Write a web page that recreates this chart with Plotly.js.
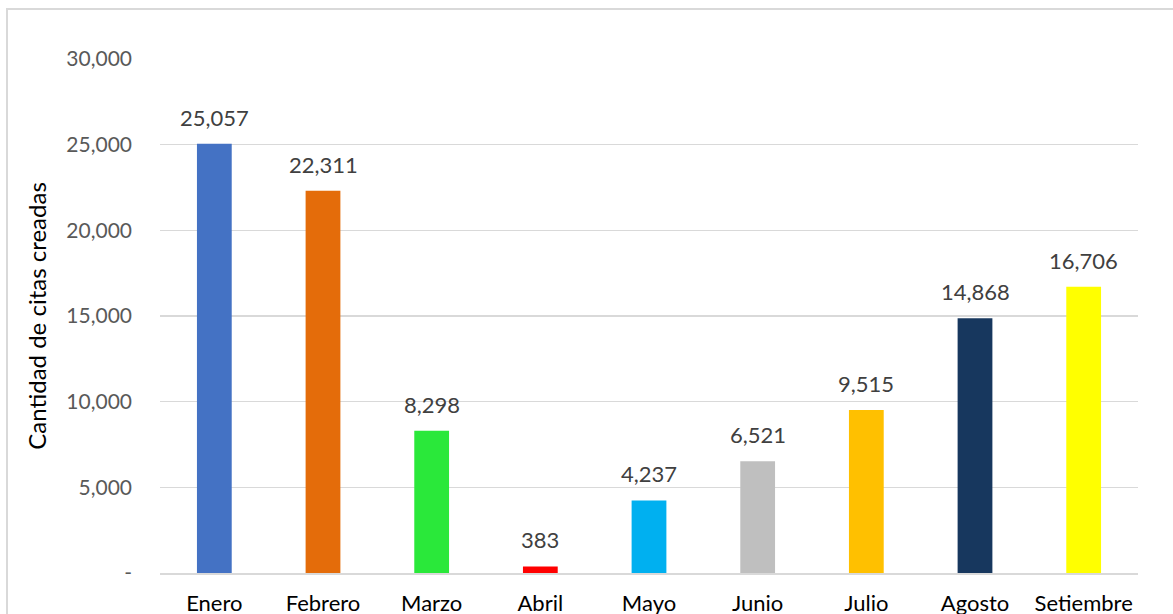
<!DOCTYPE html>
<html>
<head>
<meta charset="utf-8">
<script src="https://cdn.plot.ly/plotly-3.0.1.min.js"></script>
<style>
html,body{margin:0;padding:0;background:#fff;overflow:hidden;}
#frame{position:absolute;left:6px;top:8px;width:1200px;height:700px;border:2px solid #d9d9d9;box-sizing:border-box;}
#chart{position:absolute;left:0;top:0;width:1173px;height:614px;}
</style>
</head>
<body>
<div id="frame"></div>
<div id="chart"></div>
<script>
const months = ["Enero","Febrero","Marzo","Abril","Mayo","Junio","Julio","Agosto","Setiembre"];
const citas = [25057, 22311, 8298, 383, 4237, 6521, 9515, 14868, 16706];
const barColors = ["#4472C4","#E46C0A","#2AE83A","#FF0000","#00B0F0","#BFBFBF","#FFC000","#17375E","#FFFF00"];
const yTickVals = [0, 5000, 10000, 15000, 20000, 25000, 30000];
const yTickText = ["-", "5,000", "10,000", "15,000", "20,000", "25,000", "30,000"];

const fontFam = "Lato, 'Open Sans', sans-serif";
const fmt = v => v.toLocaleString("en-US");

const trace = {
  type: "bar",
  x: months,
  y: citas,
  marker: {color: barColors},
  hoverinfo: "none",
  cliponaxis: false
};

const annotations = months.map((m, i) => ({
  x: m, y: citas[i], xref: "x", yref: "y",
  text: fmt(citas[i]), showarrow: false,
  yanchor: "bottom", yshift: 11,
  font: {family: fontFam, size: 22, color: "#404040"}
}));

const layout = {
  width: 1173, height: 614,
  margin: {l: 160, r: 35, t: 59, b: 41},
  paper_bgcolor: "rgba(0,0,0,0)",
  plot_bgcolor: "rgba(0,0,0,0)",
  bargap: 0.68,
  showlegend: false,
  xaxis: {
    type: "category",
    showgrid: false,
    showline: true, linecolor: "#d9d9d9", linewidth: 1.5,
    ticks: "", ticklabelstandoff: 10,
    tickfont: {family: fontFam, size: 22, color: "#000000"}
  },
  yaxis: {
    range: [0, 30000],
    tickvals: yTickVals, ticktext: yTickText,
    showgrid: true, gridcolor: "#d9d9d9", gridwidth: 1.5,
    zeroline: false, showline: false,
    ticks: "", ticklabelstandoff: 27,
    tickfont: {family: fontFam, size: 21, color: "#595959"},
    title: {text: "Cantidad de citas creadas", standoff: 12,
            font: {family: fontFam, size: 24, color: "#000000"}}
  },
  annotations: annotations
};

Plotly.newPlot("chart", [trace], layout, {displayModeBar: false, staticPlot: true});
</script>
</body>
</html>
